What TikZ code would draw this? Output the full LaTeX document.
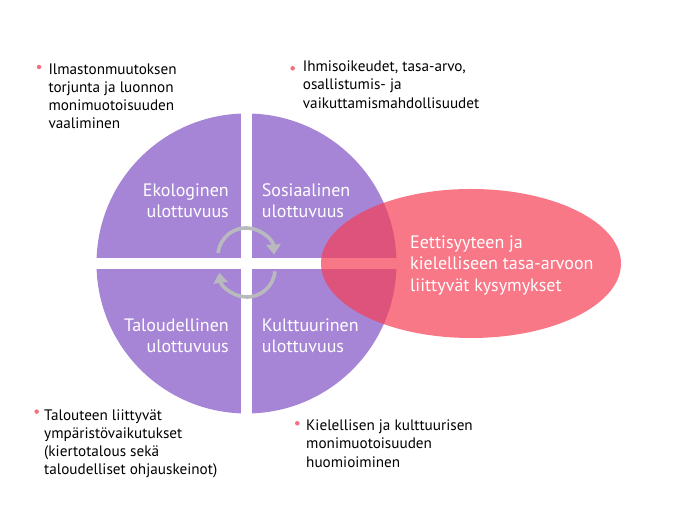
\documentclass[tikz,border=0pt]{standalone}
\usepackage{fontspec}
\setmainfont{PT Sans}
\usetikzlibrary{arrows.meta, positioning}
\definecolor{violetti}{RGB}{167,133,214}
\definecolor{puna}{RGB}{245,62,85}
\definecolor{pallo}{RGB}{244,110,130}
\definecolor{harmaa}{RGB}{184,186,190}
\begin{document}
\begin{tikzpicture}[
    x=1pt, y=1pt,
    dim/.style={text=white, inner sep=0pt, font=\fontsize{18}{21.8}\selectfont},
    note/.style={anchor=base west, inner sep=0pt, align=left,
      font=\fontsize{15.2}{18.3}\selectfont},
    dot/.style={circle, fill=pallo, inner sep=0pt, minimum size=4.5pt},
    cyc/.style={draw=harmaa, line width=3.6pt, -{Triangle[length=10pt, width=14pt]}},
  ]
  \useasboundingbox (0,0) rectangle (683,526);
  % the four dimensions: circle cut by a white cross
  \coordinate (o) at (246.5,262.5);
  \fill[violetti] (o) circle[radius=150];
  \fill[white] ([shift={(-5.5,-152)}]o) rectangle ([shift={(5.5,152)}]o);
  \fill[white] ([shift={(-152,-5.4)}]o) rectangle ([shift={(152,5.4)}]o);
  % ethics ellipse, see-through over the circle
  \fill[puna, opacity=0.7] (471,262.5) ellipse[x radius=150, y radius=74.5];
  % quadrant labels (anchored at the last line)
  \node[dim, align=right, anchor=base east] (eko) at (229,308)
    {Ekologinen\\ulottuvuus};
  \node[dim, align=left, anchor=base west] (sos) at (261.7,308)
    {Sosiaalinen\\ulottuvuus};
  \node[dim, align=right, anchor=base east] (tal) at (229,173)
    {Taloudellinen\\ulottuvuus};
  \node[dim, align=left, anchor=base west] (kul) at (261.7,173)
    {Kulttuurinen\\ulottuvuus};
  \node[dim, align=left, anchor=base west] (etiikka) at (410,234.3)
    {Eettisyyteen ja\\kielelliseen tasa-arvoon\\liittyvät kysymykset};
  % cycle arrows in the middle
  \coordinate (yla) at (246,270);
  \coordinate (ala) at (247,257);
  \draw[cyc] ([shift={(174:28)}]yla) arc[start angle=174, end angle=3, radius=28];
  \draw[cyc] ([shift={(-5:28)}]ala) arc[start angle=-5, end angle=-172, radius=28];
  % bullet notes
  \node[dot] (p1) at (39,459) {};
  \node[note] (n1) at (48.3,397)
    {Ilmastonmuutoksen\\torjunta ja luonnon\\monimuotoisuuden\\vaaliminen};
  \node[dot] (p2) at (292.7,457.7) {};
  \node[note] (n2) at (302.7,417.7)
    {Ihmisoikeudet, tasa-arvo,\\osallistumis- ja\\vaikuttamismahdollisuudet};
  \node[dot] (p3) at (36.7,114.4) {};
  \node[note] (n3) at (44,51)
    {Talouteen liittyvät\\ympäristövaikutukset\\(kiertotalous sekä\\taloudelliset ohjauskeinot)};
  \node[dot] (p4) at (297.3,102.7) {};
  \node[note] (n4) at (306,58.7)
    {Kielellisen ja kulttuurisen\\monimuotoisuuden\\huomioiminen};
\end{tikzpicture}
\end{document}
